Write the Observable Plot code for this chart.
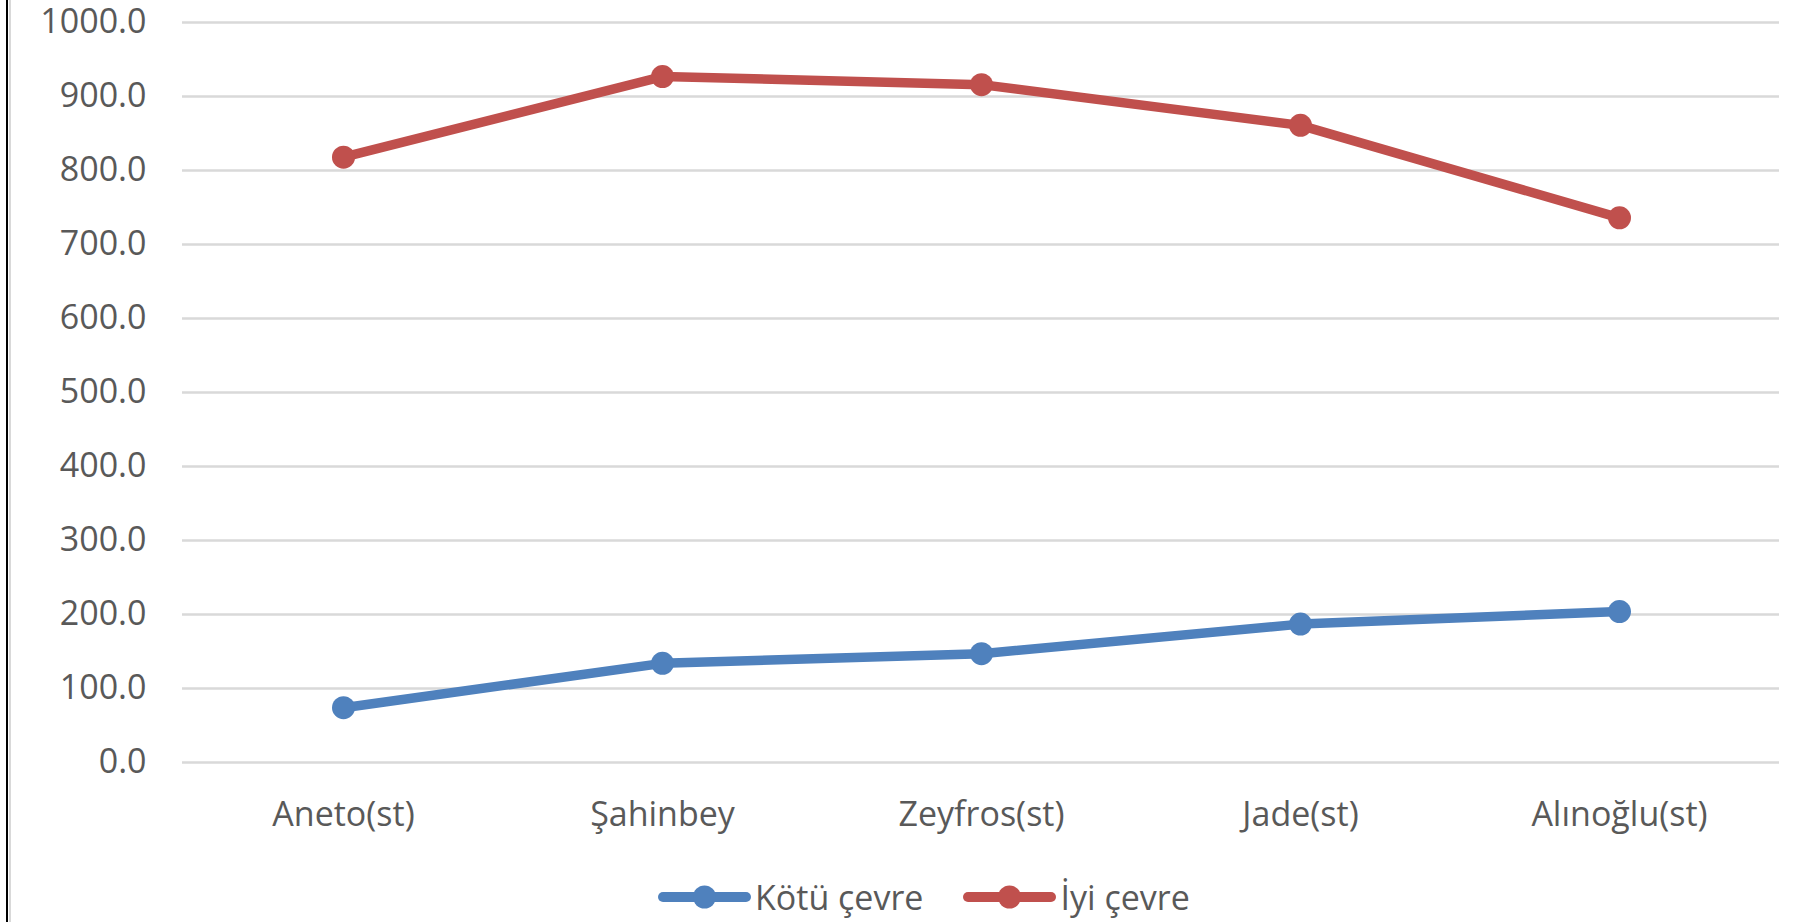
<!DOCTYPE html>
<html>
<head>
<meta charset="utf-8">
<script src="https://cdn.jsdelivr.net/npm/d3@7"></script>
<script src="https://cdn.jsdelivr.net/npm/@observablehq/plot@0.6"></script>
<style>
  html, body { margin: 0; padding: 0; background: white; }
  #wrap { position: relative; width: 1797px; height: 922px; overflow: hidden; background: white; }
  #border1 { position: absolute; left: 6px; top: 0; width: 2px; height: 922px; background: #000; }
  #border2 { position: absolute; left: 9px; top: 0; width: 2px; height: 922px; background: #d9d9d9; }
  #legend { position: absolute; left: 658px; top: 870px; height: 54px; display: flex; align-items: center;
            font-family: 'Open Sans', sans-serif; font-size: 34px; color: #595959; white-space: nowrap; }
  .item { display: flex; align-items: center; }
  .item span { margin-left: 4px; }
</style>
</head>
<body>
<div id="wrap">
  <div id="chart"></div>
  <div id="legend"></div>
  <div id="border1"></div>
  <div id="border2"></div>
</div>
<script>
const categories = ["Aneto(st)", "Şahinbey", "Zeyfros(st)", "Jade(st)", "Alınoğlu(st)"];
const kotuCevre = [74, 134, 147, 187, 204];
const iyiCevre = [818, 927, 916, 861, 736];
const seriesNames = ["Kötü çevre", "İyi çevre"];
const seriesColors = ["#4F81BD", "#C0504D"];
const yTicks = [0, 100, 200, 300, 400, 500, 600, 700, 800, 900, 1000];

const seriesValues = [kotuCevre, iyiCevre];
const rows = [];
seriesNames.forEach((s, i) => categories.forEach((c, j) => rows.push({series: s, cat: c, value: seriesValues[i][j]})));

const chart = Plot.plot({
  width: 1797,
  height: 870,
  marginLeft: 182,
  marginRight: 18,
  marginTop: 22,
  marginBottom: 108,
  x: {type: "point", domain: categories, padding: 0.5, label: null},
  y: {domain: [0, 1000], label: null},
  color: {domain: seriesNames, range: seriesColors},
  style: {fontFamily: "'Open Sans', sans-serif", fontSize: "34px", color: "#595959", background: "white", overflow: "visible"},
  marks: [
    Plot.ruleY(yTicks, {stroke: "#D9D9D9", strokeWidth: 2.5}),
    Plot.axisY({ticks: yTicks, tickSize: 0, tickPadding: 36, tickFormat: d => d.toFixed(1), label: null, fontSize: 34}),
    Plot.axisX({tickSize: 0, tickPadding: 39, label: null, fontSize: 34}),
    Plot.line(rows, {x: "cat", y: "value", z: "series", stroke: "series", strokeWidth: 9.5}),
    Plot.dot(rows, {x: "cat", y: "value", fill: "series", r: 11.5})
  ]
});
document.getElementById("chart").appendChild(chart);

const legend = document.getElementById("legend");
seriesNames.forEach((s, i) => {
  const item = document.createElement("div");
  item.className = "item";
  if (i > 0) item.style.marginLeft = "40px";
  item.innerHTML = `<svg width="93" height="30"><line x1="5" y1="15" x2="88" y2="15" stroke="${seriesColors[i]}" stroke-width="10" stroke-linecap="round"/><circle cx="46.5" cy="15" r="11.5" fill="${seriesColors[i]}"/></svg><span>${s}</span>`;
  legend.appendChild(item);
});
</script>
</body>
</html>
